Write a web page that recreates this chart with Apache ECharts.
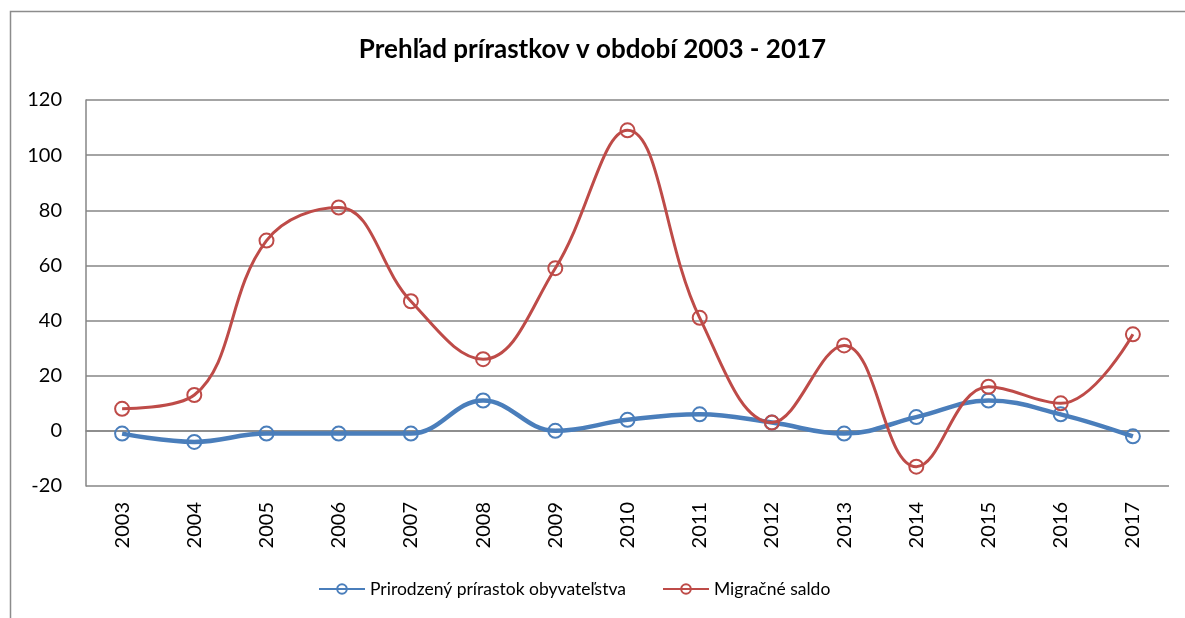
<!DOCTYPE html>
<html><head><meta charset="utf-8">
<script src="https://cdn.jsdelivr.net/npm/echarts@6/dist/echarts.min.js"></script>
<style>html,body{margin:0;padding:0;background:#fff}#c{width:1185px;height:618px}</style>
</head><body><div id="c"></div>
<script>
const years = ['2003','2004','2005','2006','2007','2008','2009','2010','2011','2012','2013','2014','2015','2016','2017'];
const natural = [-1,-4,-1,-1,-1,11,0,4,6,3,-1,5,11,6,-2];
const migration = [8,13,69,81,47,26,59,109,41,3,31,-13,16,10,35];
const yTicks = {min:-20, max:120, interval:20};
const titleText = 'Prehľad prírastkov v období 2003 - 2017';
const seriesNames = ['Prirodzený prírastok obyvateľstva','Migračné saldo'];

const font = 'Lato, "Open Sans", sans-serif';
const chart = echarts.init(document.getElementById('c'));
chart.setOption({
  animation:false,
  title:{text:titleText,left:'center',top:32,textStyle:{fontFamily:font,fontSize:26,fontWeight:'bold',color:'#000'}},
  graphic:[{type:'rect',shape:{x:10.5,y:11.5,width:1300,height:800},style:{fill:'none',stroke:'#8c8c8c',lineWidth:1.5},silent:true}],
  grid:{left:86,right:16,top:100,bottom:132,containLabel:false},
  legend:{top:575,left:313,itemGap:36,itemWidth:46,itemHeight:12,
    textStyle:{fontFamily:font,fontSize:17.5,color:'#000'},
    data:seriesNames},
  xAxis:{type:'category',data:years,boundaryGap:true,
    axisLine:{lineStyle:{color:'#868686',width:1.5}},axisTick:{show:false},
    axisLabel:{rotate:90,fontFamily:font,fontSize:20,color:'#000',margin:16}},
  yAxis:{type:'value',min:yTicks.min,max:yTicks.max,interval:yTicks.interval,
    axisLine:{show:true,lineStyle:{color:'#868686',width:1.5}},axisTick:{show:false},
    splitLine:{lineStyle:{color:'#868686',width:1.5}},
    axisLabel:{fontFamily:font,fontSize:20,color:'#000',margin:24}},
  series:[
    {name:seriesNames[0],type:'line',data:natural,smooth:0.4,symbol:'circle',symbolSize:14,
      lineStyle:{color:'#4a7ebb',width:4.5},itemStyle:{color:'rgba(255,255,255,0)',borderColor:'#4a7ebb',borderWidth:2},z:2},
    {name:seriesNames[1],type:'line',data:migration,smooth:0.4,symbol:'circle',symbolSize:14,
      lineStyle:{color:'#be4b48',width:3},itemStyle:{color:'rgba(255,255,255,0)',borderColor:'#be4b48',borderWidth:2},z:3}
  ]
});
</script></body></html>
